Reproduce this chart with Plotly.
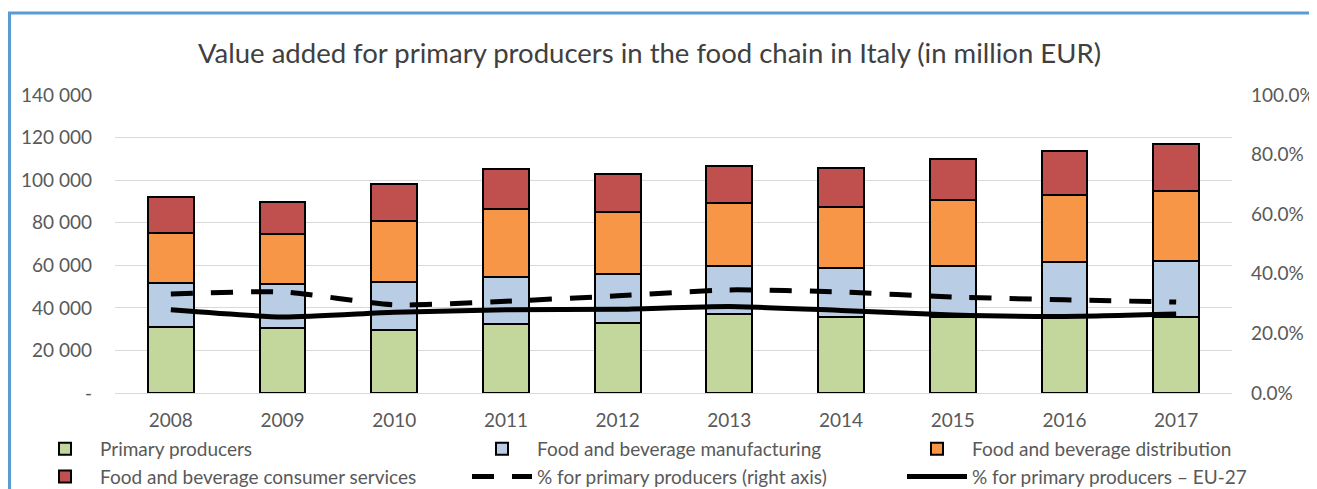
import plotly.graph_objects as go

years = ["2008", "2009", "2010", "2011", "2012", "2013", "2014", "2015", "2016", "2017"]
primary = [30800, 30500, 29400, 32400, 33100, 36900, 35700, 35700, 35700, 35700]
manufacturing = [20800, 20700, 22700, 22300, 22600, 23000, 23000, 24100, 25800, 26300]
distribution = [23600, 23600, 28800, 31900, 29400, 29300, 28900, 31000, 31700, 32900]
services = [17000, 14900, 17500, 18500, 18000, 17500, 18000, 19100, 20400, 22300]
pct_italy = [0.332, 0.339, 0.296, 0.308, 0.326, 0.346, 0.339, 0.322, 0.313, 0.305]
pct_eu27 = [0.279, 0.255, 0.271, 0.279, 0.281, 0.290, 0.277, 0.262, 0.257, 0.265]

left_tickvals = [0, 20000, 40000, 60000, 80000, 100000, 120000, 140000]
left_ticktext = ["-", "20 000", "40 000", "60 000", "80 000", "100 000", "120 000", "140 000"]
right_tickvals = [0, 0.2, 0.4, 0.6, 0.8, 1.0]

FONT = "Lato"
GRAY = "#595959"

fig = go.Figure()
bar_specs = [
    ("Primary producers", primary, "#c3d69b", "legend"),
    ("Food and beverage manufacturing", manufacturing, "#b9cde5", "legend2"),
    ("Food and beverage distribution", distribution, "#f79646", "legend3"),
    ("Food and beverage consumer services", services, "#c0504d", "legend"),
]
for name, vals, color, lg in bar_specs:
    fig.add_trace(go.Bar(
        x=years, y=vals, name=name, legend=lg,
        marker=dict(color=color, line=dict(color="black", width=2)),
    ))

fig.add_trace(go.Scatter(
    x=years, y=pct_italy, name="% for primary producers (right axis)", yaxis="y2",
    mode="lines", legend="legend2",
    line=dict(color="black", width=5, dash="22px,18px", shape="spline", smoothing=0.6),
))
fig.add_trace(go.Scatter(
    x=years, y=pct_eu27, name="% for primary producers \u2013 EU-27", yaxis="y2",
    mode="lines", legend="legend3",
    line=dict(color="black", width=5, shape="spline", smoothing=0.6),
))

# page offset of the figure (browser default body margin)
OX, OY = 8, 8
PAGE_W, PAGE_H = 1317, 489
W, H = PAGE_W - OX, PAGE_H - OY
# plot area in page pixels: x 115..1232, y 95..393
L, R, T, B = 115 - OX, PAGE_W - 1232, 95 - OY, PAGE_H - 393
pw, ph = W - L - R, H - T - B

def px_x(px):  # page px -> paper x
    return (px - OX - L) / pw

def px_y(py):  # page px -> paper y
    return (H - B - (py - OY)) / ph

def cx(px):  # page px -> container x
    return (px - OX) / W

def cy(py):  # page px -> container y
    return 1 - (py - OY) / H

legend_common = dict(
    orientation="v", yanchor="top", xanchor="left",
    xref="container", yref="container",
    font=dict(family=FONT, size=19, color=GRAY),
    bgcolor="rgba(0,0,0,0)", itemwidth=60, tracegroupgap=0,
    traceorder="normal",
)

fig.update_layout(
    width=W, height=H,
    margin=dict(l=L, r=R, t=T, b=B, autoexpand=False),
    paper_bgcolor="white", plot_bgcolor="white",
    barmode="stack", bargap=0.59,
    title=dict(
        text="Value added for primary producers in the food chain in Italy (in million EUR)",
        x=cx(649.5), xref="container", xanchor="center",
        y=cy(53), yref="container", yanchor="middle",
        font=dict(family=FONT, size=27.5, color="#404040"),
    ),
    xaxis=dict(
        type="category", showgrid=False, showline=False, zeroline=False, ticks="",
        tickfont=dict(family=FONT, size=19, color=GRAY), ticklabelstandoff=14,
    ),
    yaxis=dict(
        range=[0, 140000], tickvals=left_tickvals, ticktext=left_ticktext,
        showgrid=True, gridcolor="#d9d9d9", gridwidth=1, zeroline=True,
        zerolinecolor="#d9d9d9", zerolinewidth=1, showline=False, ticks="",
        tickfont=dict(family=FONT, size=19, color=GRAY), ticklabelstandoff=22,
    ),
    yaxis2=dict(
        range=[0, 1], tickvals=right_tickvals, tickformat=".1%", overlaying="y",
        side="right", showgrid=False, zeroline=False, showline=False, ticks="",
        tickfont=dict(family=FONT, size=19, color=GRAY), ticklabelstandoff=18,
    ),
    legend=dict(x=cx(30), y=cy(430), **legend_common),
    legend2=dict(x=cx(467), y=cy(430), **legend_common),
    legend3=dict(x=cx(902), y=cy(430), **legend_common),
    showlegend=True,
    shapes=[
        dict(type="line", xref="paper", yref="paper",
             x0=px_x(8), x1=px_x(PAGE_W + 5), y0=px_y(13), y1=px_y(13),
             line=dict(color="#5b9bd5", width=3)),
        dict(type="line", xref="paper", yref="paper",
             x0=px_x(9.5), x1=px_x(9.5), y0=px_y(12), y1=px_y(PAGE_H + 5),
             line=dict(color="#5b9bd5", width=3)),
    ],
)

fig.write_html("out.html")
